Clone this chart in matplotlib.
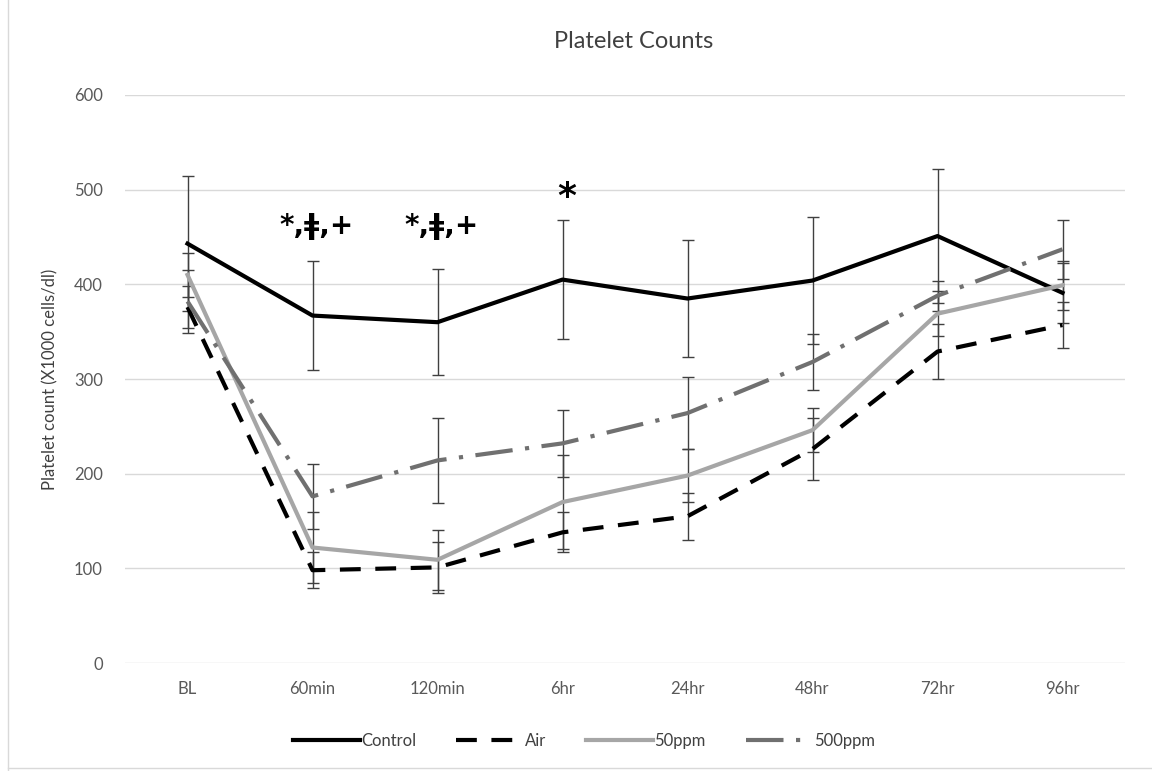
import numpy as np
import matplotlib.pyplot as plt
from matplotlib.lines import Line2D

plt.rcParams['font.family'] = ['Lato', 'DejaVu Sans']

# Données
categories = ["BL", "60min", "120min", "6hr", "24hr", "48hr", "72hr", "96hr"]

control = [443, 367, 360, 405, 385, 404, 451, 391]
control_err = [71, 58, 56, 63, 62, 67, 71, 32]

air = [376, 98, 101, 138, 155, 226, 329, 357]
air_err = [22, 19, 27, 21, 25, 33, 29, 24]

ppm50 = [410, 122, 109, 170, 198, 246, 369, 399]
ppm50_err = [23, 38, 32, 50, 28, 23, 24, 26]

ppm500 = [382, 176, 214, 232, 264, 318, 388, 437]
ppm500_err = [33, 34, 45, 35, 38, 30, 16, 31]

# annotations de significativité (catégorie, hauteur, texte)
annot_pos = [1, 2, 3]
annot_y = [462, 462, 492]
annot_txt = ["*,ǂ,+", "*,ǂ,+", "*"]

x = np.arange(len(categories))

fig, ax = plt.subplots(figsize=(11.52, 7.71), dpi=100)
fig.subplots_adjust(left=125 / 1152, right=1125 / 1152, bottom=108 / 771, top=676 / 771)

err_kw = dict(ecolor="#404040", elinewidth=1.0, capsize=4, capthick=1.0)

series = [
    (control, control_err, "Control", dict(color="black", lw=3.0, ls="-")),
    (air, air_err, "Air", dict(color="black", lw=3.0, ls=(0, (5, 3.5)))),
    (ppm50, ppm50_err, "50ppm", dict(color="#a6a6a6", lw=3.0, ls="-")),
    (ppm500, ppm500_err, "500ppm", dict(color="#707070", lw=3.0, ls=(0, (9, 3, 1, 3)))),
]

for vals, errs, name, style in series:
    ax.errorbar(x, vals, yerr=errs, label=name, **style, **err_kw)

# Annotations
for xi, yi, t in zip(annot_pos, annot_y, annot_txt):
    fs = 26 if t == "*" else 20
    ax.text(xi + 0.03, yi, t, ha="center", va="center", fontsize=fs, fontweight="bold",
            family=["DejaVu Sans"])

# Axes
ax.set_xlim(-0.5, len(categories) - 0.5)
ax.set_ylim(0, 600)
ax.set_yticks(np.arange(0, 601, 100))
ax.set_xticks(x)
ax.set_xticklabels(categories)
ax.tick_params(axis="both", length=0, labelsize=12, colors="#595959")
ax.tick_params(axis="y", pad=16)
ax.tick_params(axis="x", pad=13)
ax.yaxis.grid(True, color="#d9d9d9", lw=1)
ax.set_axisbelow(True)
for s in ax.spines.values():
    s.set_visible(False)

ax.set_ylabel("Platelet count (X1000 cells/dl)", fontsize=12, color="#404040")
ax.yaxis.set_label_coords(-0.067, 0.5)

fig.text(634 / 1152, 1 - 42 / 771, "Platelet Counts", ha="center", va="center",
         fontsize=17, color="#404040")

# Légende
labels = [s[2] for s in series]
handles = [Line2D([], [], **s[3]) for s in series]
fig.legend(handles, labels, loc="center", bbox_to_anchor=(584 / 1152, 1 - 741 / 771),
           ncol=4, frameon=False, fontsize=12, handlelength=4.0, columnspacing=2.4,
           handletextpad=0.1, labelcolor="#404040")

# Bordure de la zone graphique
fig.add_artist(Line2D([8 / 1152, 8 / 1152], [0, 1], color="#d9d9d9", lw=1))
fig.add_artist(Line2D([8 / 1152, 1], [3 / 771, 3 / 771], color="#d9d9d9", lw=1))

fig.savefig("out.png", dpi=100)
